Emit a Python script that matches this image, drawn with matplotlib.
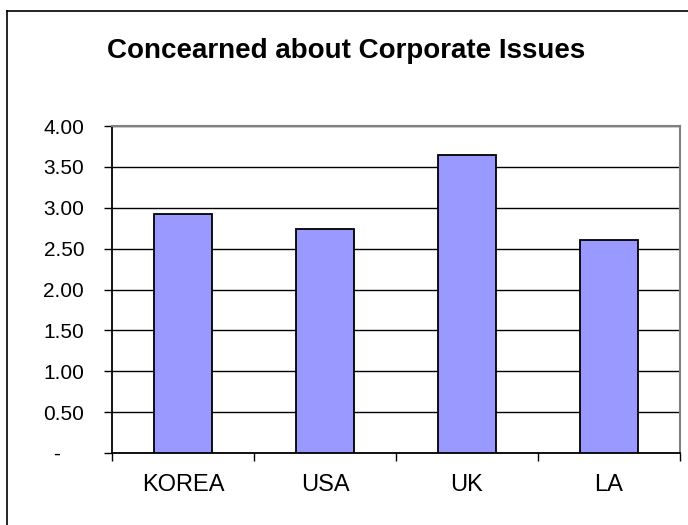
import matplotlib
matplotlib.use('Agg')
import matplotlib.pyplot as plt
from matplotlib.lines import Line2D

# Data
regions = ['KOREA', 'USA', 'UK', 'LA']
scores = [2.92, 2.74, 3.65, 2.60]
y_ticks = [0, 0.5, 1.0, 1.5, 2.0, 2.5, 3.0, 3.5, 4.0]
y_labels = ['-    ', '0.50', '1.00', '1.50', '2.00', '2.50', '3.00', '3.50', '4.00']

plt.rcParams['font.family'] = ['Liberation Sans', 'DejaVu Sans']

W, H = 688, 525
fig = plt.figure(figsize=(W / 100, H / 100), dpi=100)

# chart frame (cropped on right and bottom)
fig.lines.append(Line2D([7 / W, 1], [1 - 11 / H, 1 - 11 / H], transform=fig.transFigure,
                        color='black', linewidth=1.2))
fig.lines.append(Line2D([7 / W, 7 / W], [0, 1 - 11 / H], transform=fig.transFigure,
                        color='black', linewidth=1.2))

ax = fig.add_axes([112 / W, (H - 453) / H, 568 / W, 327 / H])
x = range(len(regions))
ax.bar(x, scores, width=0.415, color='#9999ff', edgecolor='black', linewidth=1.3, zorder=3)

ax.set_xlim(-0.5, len(regions) - 0.5)
ax.set_ylim(0, 4)
ax.set_yticks(y_ticks)
ax.set_yticklabels(y_labels, fontsize=15)
ax.yaxis.grid(True, color='black', linewidth=1, zorder=0)

# category labels between boundary ticks
ax.set_xticks([i - 0.5 for i in range(len(regions) + 1)])
ax.set_xticklabels([])
ax.set_xticks(list(x), minor=True)
ax.set_xticklabels(regions, minor=True, fontsize=17)
ax.tick_params(axis='x', which='minor', length=0, pad=15)
ax.tick_params(axis='x', which='major', direction='out', length=6, width=1)
ax.tick_params(axis='y', direction='out', length=6, width=1, pad=14)

for side in ['top', 'right']:
    ax.spines[side].set_color('gray')
    ax.spines[side].set_linewidth(1.5)
ax.spines['left'].set_linewidth(1.3)
ax.spines['bottom'].set_linewidth(1.3)

fig.text(346 / W, 1 - 58 / H, 'Concearned about Corporate Issues',
         ha='center', va='baseline', fontsize=20, fontweight='bold')

plt.savefig('out.png', dpi=100)
plt.close()
